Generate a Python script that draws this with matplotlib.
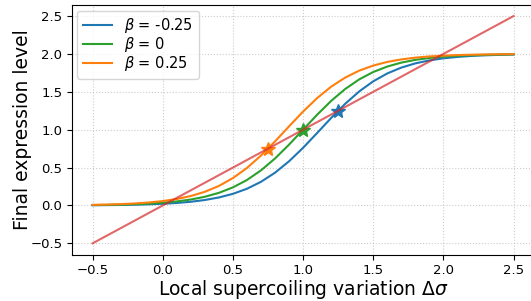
import matplotlib
matplotlib.use("Agg")
import matplotlib.pyplot as plt

# values (step 0.1)
x = [-0.5, -0.4, -0.3, -0.2, -0.1, 0.0, 0.1, 0.2, 0.3, 0.4, 0.5,
     0.6, 0.7, 0.8, 0.9, 1.0, 1.1, 1.2, 1.3, 1.4, 1.5,
     1.6, 1.7, 1.8, 1.9, 2.0, 2.1, 2.2, 2.3, 2.4, 2.5]

y_neg = [0.0030, 0.0045, 0.0068, 0.0101, 0.0150, 0.0222, 0.0330, 0.0488, 0.0720, 0.1055, 0.1534,
         0.2205, 0.3121, 0.4323, 0.5831, 0.7608, 0.9560, 1.1547, 1.3417, 1.5050, 1.6387,
         1.7425, 1.8197, 1.8754, 1.9148, 1.9420, 1.9608, 1.9735, 1.9822, 1.9880, 1.9920]

y_zero = [0.0050, 0.0074, 0.0110, 0.0163, 0.0243, 0.0360, 0.0532, 0.0783, 0.1147, 0.1664, 0.2384,
          0.3360, 0.4630, 0.6200, 0.8027, 1.0000, 1.1973, 1.3800, 1.5370, 1.6640, 1.7616,
          1.8336, 1.8853, 1.9217, 1.9468, 1.9640, 1.9757, 1.9837, 1.9890, 1.9926, 1.9950]

y_pos = [0.0080, 0.0120, 0.0178, 0.0265, 0.0392, 0.0580, 0.0852, 0.1246, 0.1803, 0.2575, 0.3613,
         0.4950, 0.6583, 0.8453, 1.0440, 1.2392, 1.4169, 1.5677, 1.6879, 1.7795, 1.8466,
         1.8945, 1.9280, 1.9512, 1.9670, 1.9778, 1.9850, 1.9899, 1.9932, 1.9955, 1.9970]

# diagonal y = x
diag_x = [-0.5, 2.5]
diag_y = [-0.5, 2.5]

# fixed points (stars)
fixed = [1.25, 1.0, 0.75]

labels = [r'$\beta$ = -0.25', r'$\beta$ = 0', r'$\beta$ = 0.25']
colors = ['tab:blue', 'tab:green', 'tab:orange']

fig = plt.figure(figsize=(5.31, 3.01), dpi=100)
ax = fig.add_axes([0.1347, 0.1538, 0.8721, 0.8306])

for ys, lab, c in zip([y_neg, y_zero, y_pos], labels, colors):
    ax.plot(x, ys, color=c, label=lab, lw=1.5)

for fp, c in zip(fixed, colors):
    ax.plot(fp, fp, marker='*', color=c, markersize=10)

ax.plot(diag_x, diag_y, color='tab:red', alpha=0.7, lw=1.5)

ax.grid(True, linestyle=':', color='#cccccc')
ax.tick_params(labelsize=9.5, pad=3)
ax.set_xlabel(r'Local supercoiling variation $\Delta\sigma$', fontsize=13.5, labelpad=1)
ax.set_ylabel('Final expression level', fontsize=13.5, labelpad=-1)
ax.legend(loc='upper left', fontsize=10.5, labelspacing=0.0,
          borderaxespad=0.4, handlelength=2.0)

fig.savefig("out.png", dpi=100)
